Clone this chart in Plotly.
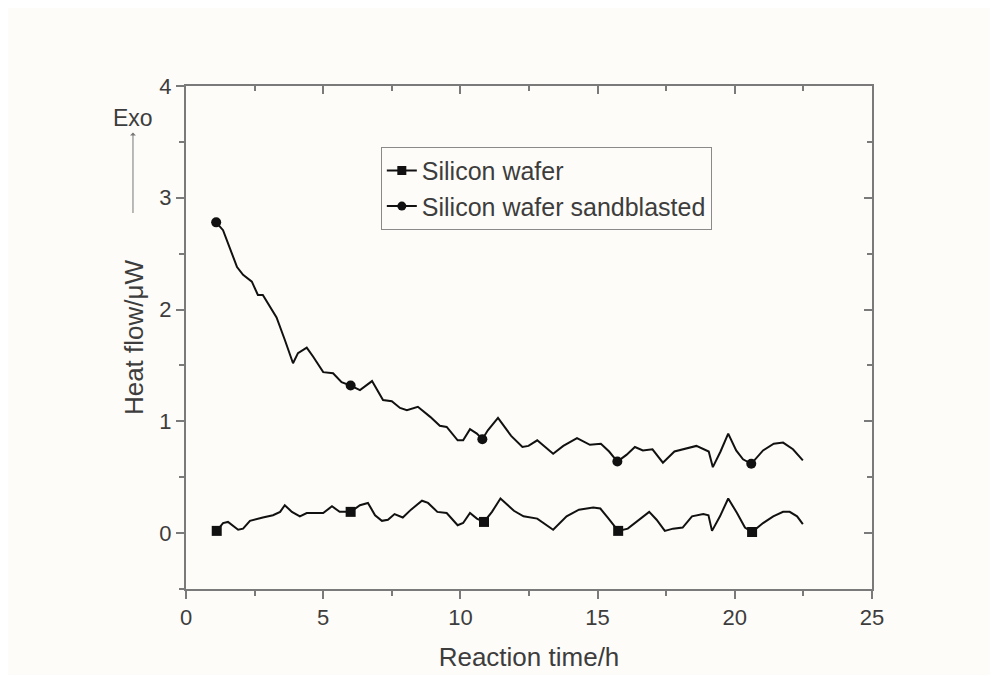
import plotly.graph_objects as go

# Silicon wafer sandblasted (circles)
sb_t = [1.1, 1.35, 1.86, 2.08, 2.4, 2.62, 2.8, 3.3, 3.6, 3.9, 4.08, 4.4, 4.63, 5.0, 5.36, 5.67, 6.0, 6.34, 6.78, 7.18,
        7.5, 7.8, 8.05, 8.45, 8.9, 9.25, 9.5, 9.9, 10.1, 10.35, 10.6, 10.8, 11.0, 11.37, 11.85, 12.26, 12.48, 12.8, 13.38, 13.75,
        14.25, 14.72, 15.12, 15.42, 15.72, 16.05, 16.36, 16.65, 17.0, 17.38, 17.8, 18.6, 19.05, 19.2, 19.48, 19.76, 20.05, 20.3, 20.6, 21.03,
        21.42, 21.76, 22.12, 22.48]
sb_v = [2.78, 2.71, 2.38, 2.31, 2.25, 2.13, 2.13, 1.93, 1.73, 1.52, 1.61, 1.66, 1.58, 1.44, 1.43, 1.35, 1.32, 1.28, 1.36, 1.19,
        1.18, 1.12, 1.10, 1.13, 1.04, 0.96, 0.95, 0.83, 0.83, 0.93, 0.89, 0.84, 0.92, 1.03, 0.87, 0.77, 0.78, 0.83, 0.71, 0.78,
        0.85, 0.79, 0.80, 0.73, 0.64, 0.70, 0.77, 0.74, 0.75, 0.63, 0.73, 0.78, 0.73, 0.59, 0.73, 0.89, 0.74, 0.66, 0.62, 0.74,
        0.80, 0.81, 0.75, 0.65]
sb_marker_t = [1.1, 6.0, 10.8, 15.72, 20.6]

# Silicon wafer (squares)
sw_t = [1.12, 1.35, 1.53, 1.9, 2.08, 2.33, 2.8, 3.17, 3.43, 3.6, 3.86, 4.15, 4.4, 4.77, 5.0, 5.32, 5.6, 6.0, 6.34, 6.63,
        6.89, 7.14, 7.36, 7.6, 7.9, 8.2, 8.6, 8.82, 9.16, 9.5, 9.9, 10.1, 10.35, 10.6, 10.86, 11.15, 11.46, 11.95, 12.3, 12.8,
        13.38, 13.87, 14.32, 14.84, 15.1, 15.4, 15.75, 16.1, 16.55, 16.88, 17.15, 17.45, 17.75, 18.1, 18.44, 18.85, 19.04, 19.17, 19.46, 19.76,
        20.08, 20.37, 20.63, 21.03, 21.4, 21.76, 22.0, 22.27, 22.48]
sw_v = [0.02, 0.09, 0.10, 0.03, 0.04, 0.11, 0.14, 0.16, 0.19, 0.25, 0.19, 0.15, 0.18, 0.18, 0.18, 0.24, 0.19, 0.19, 0.25, 0.27,
        0.16, 0.11, 0.12, 0.17, 0.14, 0.21, 0.29, 0.27, 0.19, 0.18, 0.07, 0.09, 0.18, 0.13, 0.10, 0.19, 0.31, 0.20, 0.15, 0.13,
        0.03, 0.15, 0.21, 0.23, 0.22, 0.13, 0.02, 0.04, 0.13, 0.19, 0.12, 0.02, 0.04, 0.05, 0.15, 0.17, 0.16, 0.02, 0.15, 0.31,
        0.18, 0.05, 0.01, 0.09, 0.15, 0.19, 0.19, 0.15, 0.08]
sw_marker_t = [1.12, 6.0, 10.86, 15.75, 20.63]

names = ["Silicon wafer", "Silicon wafer sandblasted"]
x_title = "Reaction time/h"
y_title = "Heat flow/μW"
x_ticks = [0, 5, 10, 15, 20, 25]
y_ticks = [0, 1, 2, 3, 4]

BG = "#fdfcf8"
AX = "#7a7a7a"
TXT = "#3d3d3d"
FONT = "Liberation Sans, Arial, sans-serif"


def pick(ts, vs, mt):
    xs, ys = [], []
    for t, v in zip(ts, vs):
        if any(abs(t - m) < 1e-9 for m in mt):
            xs.append(t)
            ys.append(v)
    return xs, ys


fig = go.Figure()
series = [
    (sw_t, sw_v, sw_marker_t, "square", names[0]),
    (sb_t, sb_v, sb_marker_t, "circle", names[1]),
]
for ts, vs, mt, sym, nm in series:
    fig.add_trace(go.Scatter(x=ts, y=vs, mode="lines", line=dict(color="#111111", width=2),
                             showlegend=False, hoverinfo="skip"))
    mx, my = pick(ts, vs, mt)
    fig.add_trace(go.Scatter(x=mx, y=my, mode="markers",
                             marker=dict(symbol=sym, size=10, color="#111111"),
                             showlegend=False))
for ts, vs, mt, sym, nm in series:
    fig.add_trace(go.Scatter(x=[None], y=[None], mode="lines+markers", name=nm,
                             line=dict(color="#111111", width=2),
                             marker=dict(symbol=sym, size=9, color="#111111")))

# dummy trace for mirrored (inside-tick) axes
fig.add_trace(go.Scatter(x=[None], y=[None], xaxis="x2", yaxis="y2", showlegend=False))

fig.update_layout(
    width=990, height=667,
    margin=dict(l=178, r=126, t=78, b=86),
    paper_bgcolor=BG, plot_bgcolor=BG,
    font=dict(family=FONT, color=TXT, size=20),
    xaxis=dict(range=[0, 25], tickvals=x_ticks, ticks="outside", ticklen=8, tickwidth=1.5,
               tickcolor=AX, showline=True, linecolor=AX, linewidth=2, showgrid=False, zeroline=False,
               automargin=False,
               minor=dict(dtick=2.5, tick0=0, ticks="outside", ticklen=5, tickcolor=AX, showgrid=False),
               tickfont=dict(size=22, color=TXT),
               title=dict(text=x_title, font=dict(size=26, color=TXT), standoff=18)),
    yaxis=dict(range=[-0.5, 4], tickvals=y_ticks, ticks="outside", ticklen=8, tickwidth=1.5,
               tickcolor=AX, showline=True, linecolor=AX, linewidth=2, showgrid=False, zeroline=False,
               automargin=False,
               minor=dict(dtick=0.5, tick0=0, ticks="outside", ticklen=5, tickcolor=AX, showgrid=False),
               tickfont=dict(size=22, color=TXT),
               title=dict(text=y_title, font=dict(size=26, color=TXT), standoff=8)),
    xaxis2=dict(range=[0, 25], overlaying="x", side="top", anchor="y", tickvals=x_ticks, ticks="inside",
                ticklen=8, tickwidth=1.5, tickcolor=AX, showline=True, linecolor=AX, linewidth=2,
                showticklabels=False, showgrid=False, zeroline=False, automargin=False,
                minor=dict(dtick=2.5, tick0=0, ticks="inside", ticklen=5, tickcolor=AX, showgrid=False)),
    yaxis2=dict(range=[-0.5, 4], overlaying="y", side="right", anchor="x", tickvals=y_ticks, ticks="inside",
                ticklen=8, tickwidth=1.5, tickcolor=AX, showline=True, linecolor=AX, linewidth=2,
                showticklabels=False, showgrid=False, zeroline=False, automargin=False,
                minor=dict(dtick=0.5, tick0=0, ticks="inside", ticklen=5, tickcolor=AX, showgrid=False)),
    legend=dict(x=0.284, y=0.879, xanchor="left", yanchor="top", bgcolor=BG,
                bordercolor="#8a8a8a", borderwidth=1, font=dict(size=25, color=TXT),
                tracegroupgap=0),
    annotations=[
        dict(text="Exo", xref="paper", yref="paper", x=-0.0773, y=0.7475, ax=0, ay=-95,
             showarrow=True, arrowside="start", arrowhead=2, arrowsize=1, arrowwidth=1,
             arrowcolor="#777777", font=dict(size=23, color=TXT)),
    ],
)

fig.write_html("out.html")
